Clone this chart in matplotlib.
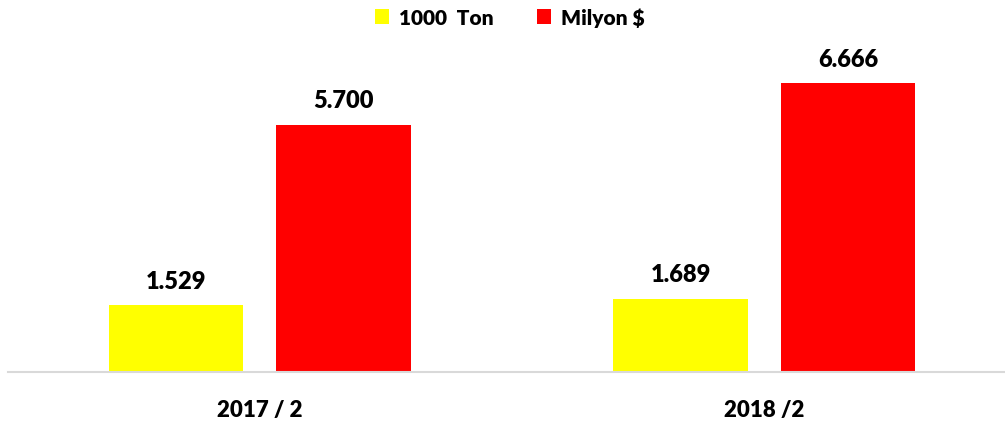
import matplotlib.pyplot as plt
import numpy as np

periods = ['2017 / 2', '2018 /2']
ton = [1.529, 1.689]
usd = [5.700, 6.666]
ton_labels = ['1.529', '1.689']
usd_labels = ['5.700', '6.666']

plt.rcParams['font.family'] = ['Lato', 'DejaVu Sans']
BW = 'heavy'

fig = plt.figure(figsize=(10.05, 4.27), dpi=100)
ax = fig.add_axes([0.0075, 0.1276, 1.004, 0.8724])

x = np.arange(len(periods))
w = 0.267
gap = 0.065
off = (w + gap) / 2
b1 = ax.bar(x - off, ton, w, color='#ffff00', label='1000  Ton')
b2 = ax.bar(x + off, usd, w, color='#ff0000', label='Milyon $')

for bars, labs in ((b1, ton_labels), (b2, usd_labels)):
    for b, t in zip(bars, labs):
        ax.annotate(t, (b.get_x() + b.get_width() / 2, b.get_height()),
                    xytext=(0, 10), textcoords='offset points',
                    ha='center', va='bottom', fontsize=17, fontweight=BW)

ax.set_xlim(-0.5, 1.5)
ax.set_ylim(0, 8.62)
ax.set_xticks(x)
ax.set_xticklabels(periods, fontsize=16, fontweight=BW)
ax.tick_params(axis='x', length=0, pad=20)
ax.set_yticks([])
for s in ['top', 'right', 'left']:
    ax.spines[s].set_visible(False)
ax.spines['bottom'].set_color('#d9d9d9')
ax.spines['bottom'].set_linewidth(1.5)

fig.legend(loc='upper center', bbox_to_anchor=(0.507, 1.025), ncol=2, frameon=False,
           prop={'size': 15, 'weight': BW}, handlelength=0.7, handleheight=0.7,
           handletextpad=0.45, columnspacing=2.1)

fig.savefig('out.png', dpi=100)
